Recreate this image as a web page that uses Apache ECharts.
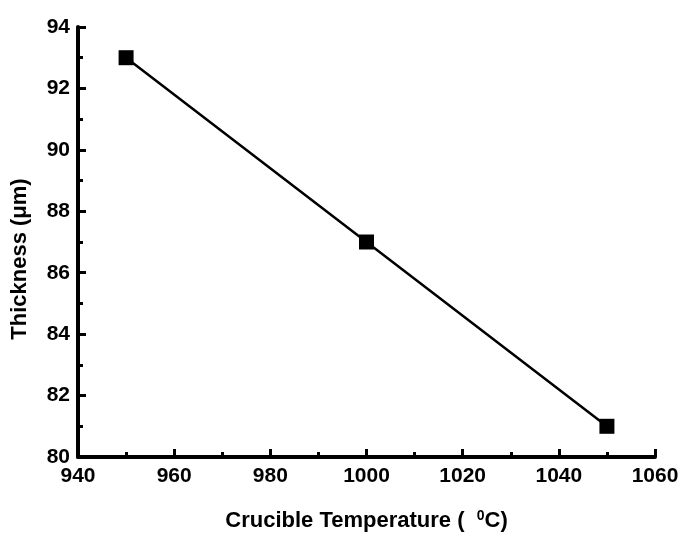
<!DOCTYPE html>
<html>
<head>
<meta charset="utf-8">
<script src="https://cdn.jsdelivr.net/npm/echarts@6/dist/echarts.min.js"></script>
<style>
  html, body { margin: 0; padding: 0; background: #fff; }
  #graph { width: 691px; height: 550px; }
</style>
</head>
<body>
<div id="graph"></div>
<script>
// data
const temperature = [950, 1000, 1050];
const thickness = [93, 87, 81];

const points = temperature.map((t, i) => [t, thickness[i]]);

var myChart = echarts.init(document.getElementById('graph'));
const font = 'Liberation Sans, Arial, sans-serif';

myChart.setOption({
  backgroundColor: '#fff',
  animation: false,
  grid: {
    left: 78,
    right: 36,
    top: 27,
    bottom: 93
  },
  xAxis: {
    type: 'value',
    min: 940,
    max: 1060,
    interval: 20,
    name: 'Crucible Temperature (  {sup|0}C)',
    nameLocation: 'middle',
    nameGap: 52,
    nameTextStyle: {
      color: '#000',
      fontFamily: font,
      fontWeight: 'bold',
      fontSize: 22,
      rich: {
        sup: {
          fontFamily: font,
          fontWeight: 'bold',
          fontSize: 14,
          verticalAlign: 'top',
          padding: [0, 0, 10, 0]
        }
      }
    },
    axisLine: {lineStyle: {color: '#000', width: 4}},
    axisTick: {inside: true, length: 8, lineStyle: {color: '#000', width: 3}},
    minorTick: {show: true, splitNumber: 2, length: 5, lineStyle: {color: '#000', width: 3}},
    axisLabel: {
      color: '#000',
      fontFamily: font,
      fontWeight: 'bold',
      fontSize: 21,
      margin: 9,
      formatter: v => String(v)
    },
    splitLine: {show: false}
  },
  yAxis: {
    type: 'value',
    min: 80,
    max: 94,
    interval: 2,
    name: 'Thickness (\u03bcm)',
    nameLocation: 'middle',
    nameGap: 47,
    nameTextStyle: {
      color: '#000',
      fontFamily: font,
      fontWeight: 'bold',
      fontSize: 22,
      padding: [0, 34, 0, 0]
    },
    axisLine: {lineStyle: {color: '#000', width: 4}},
    axisTick: {inside: true, length: 8, lineStyle: {color: '#000', width: 3}},
    minorTick: {show: true, splitNumber: 2, length: 5, lineStyle: {color: '#000', width: 3}},
    axisLabel: {
      color: '#000',
      fontFamily: font,
      fontWeight: 'bold',
      fontSize: 21,
      margin: 8,
      formatter: v => String(v)
    },
    splitLine: {show: false}
  },
  series: [
    {
      type: 'line',
      data: points,
      symbol: 'rect',
      symbolSize: 15,
      itemStyle: {color: '#000'},
      lineStyle: {color: '#000', width: 2.5}
    }
  ]
});
</script>
</body>
</html>
